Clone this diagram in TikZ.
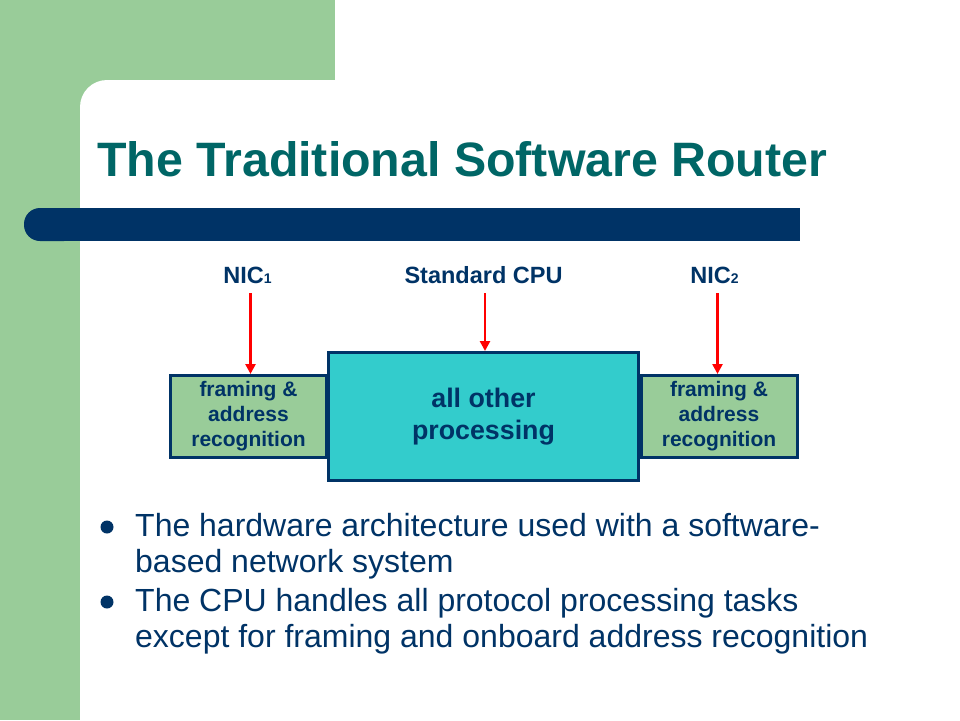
\documentclass[tikz,border=0pt]{standalone}
\usepackage{fontspec}
\setmainfont{Liberation Sans}
\usetikzlibrary{arrows.meta}
\definecolor{bggreen}{HTML}{99CC99}
\definecolor{navy}{HTML}{003366}
\definecolor{titleteal}{HTML}{006666}
\definecolor{cpucyan}{HTML}{33CCCC}
\definecolor{arrred}{HTML}{FF0000}
\tikzset{
  nicbox/.style={draw=navy, line width=3pt, fill=bggreen, minimum width=156pt, minimum height=82pt, inner sep=0pt, align=center, text=navy, font=\bfseries\fontsize{21}{25}\selectfont},
  cpubox/.style={draw=navy, line width=3pt, fill=cpucyan, minimum width=310pt, minimum height=128pt, inner sep=0pt, align=center, text=navy, font=\bfseries\fontsize{26.8}{32}\selectfont},
  toplabel/.style={anchor=base, inner sep=0pt, text=navy, font=\bfseries\fontsize{23.5}{27}\selectfont},
  redarrow/.style={draw=arrred, line width=2.5pt, -{Triangle[width=10pt,length=10pt]}},
  bullettext/.style={anchor=base west, inner sep=0pt, text=navy, font=\fontsize{32}{36}\selectfont},
  bulletdot/.style={circle, fill=navy, minimum size=13pt, inner sep=0pt}
}
\begin{document}
\begin{tikzpicture}[x=1pt,y=-1pt]
\useasboundingbox (0,0) rectangle (960,720);
% background
\fill[white] (0,0) rectangle (960,720);
\fill[bggreen] (0,0) rectangle (80,720);
\fill[bggreen] (0,0) rectangle (335,110);
\fill[white, rounded corners=27pt] (80,80) rectangle (1000,760);
% dark bar
\fill[navy, rounded corners=16pt] (24,208) rectangle (80,241);
\fill[navy] (60,208) rectangle (800,241);
% title
\node[anchor=base west, inner sep=0pt, text=titleteal, font=\bfseries\fontsize{48.3}{56}\selectfont] (title) at (97,176) {The Traditional Software Router};
% boxes
\node[nicbox] (nicA) at (248.5,416.5) {framing \&\\address\\recognition};
\node[nicbox] (nicB) at (719,416.5) {framing \&\\address\\recognition};
\node[cpubox] (cpu) at (483.5,416.5) {all other\\processing};
% labels
\node[toplabel] (labA) at (247.5,283) {NIC{\fontsize{14}{14}\selectfont 1}};
\node[toplabel] (labCPU) at (483.5,283) {Standard CPU};
\node[toplabel] (labB) at (714.5,283) {NIC{\fontsize{14}{14}\selectfont 2}};
% arrows
\coordinate (tA) at (250.5,293);
\coordinate (tC) at (485,293);
\coordinate (tB) at (717.5,293);
\draw[redarrow] (tA) -- (tA |- nicA.north);
\draw[redarrow] (tC) -- (tC |- cpu.north);
\draw[redarrow] (tB) -- (tB |- nicB.north);
% bullets
\node[bulletdot] (d1) at (107,527) {};
\node[bullettext] (b1a) at (135,536) {The hardware architecture used with a software-};
\node[bullettext] (b1b) at (135,572) {based network system};
\node[bulletdot] (d2) at (107,602) {};
\node[bullettext] (b2a) at (135,611) {The CPU handles all protocol processing tasks};
\node[bullettext] (b2b) at (135,647) {except for framing and onboard address recognition};
\end{tikzpicture}
\end{document}
